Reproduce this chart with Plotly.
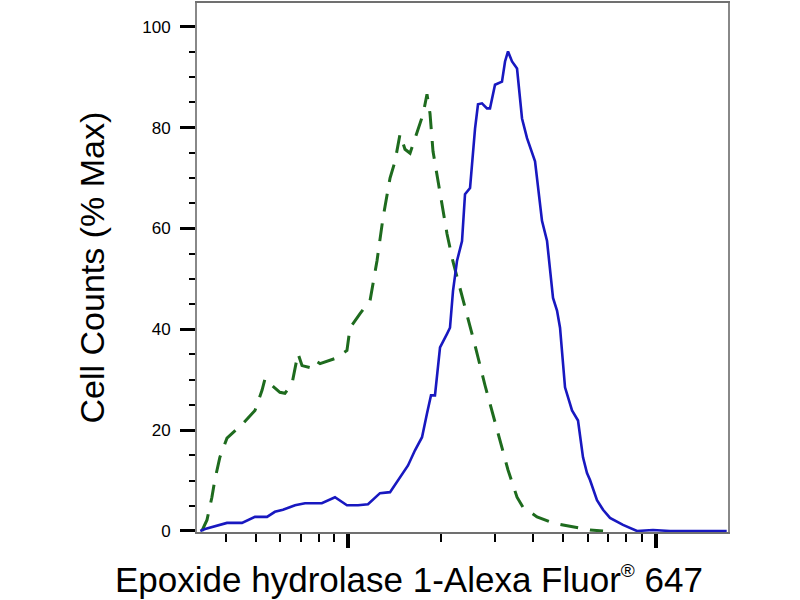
import plotly.graph_objects as go

# Fluorescence intensity (log axis) and % Max values
blue_x = [330, 342, 403, 451, 497, 544, 577, 613, 671, 723,
          820, 905, 990, 1076, 1159, 1268, 1367, 1473, 1564, 1648,
          1737, 1803, 1858, 1914, 1988, 2095, 2142, 2191, 2258, 2344,
          2397, 2489, 2584, 2642, 2722, 2826, 2890, 3001, 3069, 3162,
          3235, 3308, 3409, 3539, 3674, 3814, 4050, 4267, 4431, 4634,
          4775, 4884, 5070, 5343, 5588, 5801, 5977, 6114, 6442, 6741,
          7101, 7827, 8694, 9802, 11130, 17020]
blue_y = [0, 0.4, 1.6, 1.6, 2.8, 2.8, 3.8, 4.2, 5.1, 5.5,
          5.5, 6.7, 5.1, 5.1, 5.3, 7.5, 7.7, 10.7, 13.0, 16.0,
          18.6, 23.3, 26.9, 26.9, 36.4, 39.1, 40.3, 47.6, 53.6, 57.5,
          66.8, 68.0, 79.8, 84.6, 84.8, 83.8, 83.8, 88.5, 88.7, 89.1,
          93.1, 95.1, 93.1, 91.7, 81.8, 77.9, 73.3, 61.5, 57.5, 46.2,
          43.7, 40.3, 28.5, 23.9, 21.9, 14.6, 11.5, 10.1, 6.1, 4.2,
          2.6, 1.2, 0, 0.2, 0, 0]

green_x = [334, 347, 360, 368, 382, 403, 454, 497, 524, 536,
           556, 599, 622, 656, 686, 707, 751, 779, 809, 905,
           990, 1013, 1092, 1177, 1240, 1297, 1367, 1419, 1473, 1529,
           1588, 1648, 1750, 1803, 1844, 1886, 1988, 2095, 2191, 2309,
           2433, 2584, 2784, 3046, 3308, 3539, 3702, 4111, 4634, 4995,
           6114, 6741]
green_y = [0, 2.2, 6.7, 10.1, 14.6, 18.4, 21.3, 23.9, 27.9, 30.2,
           29.2, 27.5, 27.3, 29.2, 35.2, 32.8, 32.4, 33.8, 33.2, 34.2,
           35.8, 40.3, 43.1, 45.7, 53.6, 62.1, 70.0, 73.3, 78.7, 75.7,
           74.9, 77.9, 82.6, 86.6, 82.8, 75.3, 67.4, 58.9, 53.4, 48.2,
           43.1, 36.8, 28.9, 20.0, 12.1, 6.7, 4.7, 2.8, 1.6, 1.2,
           0.2, 0]

y_ticks = [0, 20, 40, 60, 80, 100]
y_tick_labels = ["0", "20", "40", "60", "80", "100"]
x_major_ticks = [1000, 10000]
x_minor_ticks = [400, 500, 600, 700, 800, 900,
                 2000, 3000, 4000, 5000, 6000, 7000, 8000, 9000]

x_title = ("Epoxide hydrolase 1-Alexa Fluor"
           "<sup><span style='font-size:19px'>®</span></sup> 647")
y_title = "Cell Counts (% Max)"

FONT = "Liberation Sans, Arial, Helvetica, sans-serif"

fig = go.Figure()
fig.add_trace(go.Scatter(x=green_x, y=green_y, mode="lines",
                         line=dict(color="#1e6b1e", width=3, dash="18px,12px"),
                         showlegend=False))
fig.add_trace(go.Scatter(x=blue_x, y=blue_y, mode="lines",
                         line=dict(color="#1818c0", width=2.6),
                         showlegend=False))

fig.update_layout(
    width=800, height=600,
    margin=dict(l=197, r=72, t=1, b=68),
    paper_bgcolor="white", plot_bgcolor="white",
    font=dict(family=FONT, color="black"),
    xaxis=dict(
        type="log", range=[2.5078, 4.2352],
        tickmode="array", tickvals=x_major_ticks, showticklabels=False,
        ticks="outside", ticklen=14, tickwidth=4, tickcolor="black",
        minor=dict(tickmode="array", tickvals=x_minor_ticks, ticks="outside",
                   ticklen=8, tickwidth=2, tickcolor="black", showgrid=False),
        showgrid=False, zeroline=False,
        showline=True, linecolor="#707070", linewidth=2, mirror=True,
    ),
    yaxis=dict(
        range=[-0.2, 104.7],
        tickmode="array", tickvals=y_ticks, ticktext=y_tick_labels,
        ticks="outside", ticklen=15, tickwidth=3, tickcolor="black",
        tickfont=dict(size=17, family=FONT, color="black"),
        ticklabelstandoff=6,
        minor=dict(dtick=5, ticks="outside", ticklen=6, tickwidth=2,
                   tickcolor="black", showgrid=False),
        showgrid=False, zeroline=False,
        showline=True, linecolor="#888888", linewidth=2, mirror=True,
    ),
    annotations=[
        dict(text=x_title, xref="paper", yref="paper", x=0.4, y=0,
             xanchor="center", yanchor="middle", yshift=-47, showarrow=False,
             font=dict(size=35, family=FONT, color="black")),
        dict(text=y_title, xref="paper", yref="paper", x=0, y=0.5,
             xanchor="center", yanchor="middle", xshift=-106, showarrow=False,
             textangle=-90, font=dict(size=34, family=FONT, color="black")),
    ],
)

fig.write_html("out.html",
               config={"displayModeBar": False},
               post_script="document.body.style.margin='0';document.body.style.overflow='hidden';")
